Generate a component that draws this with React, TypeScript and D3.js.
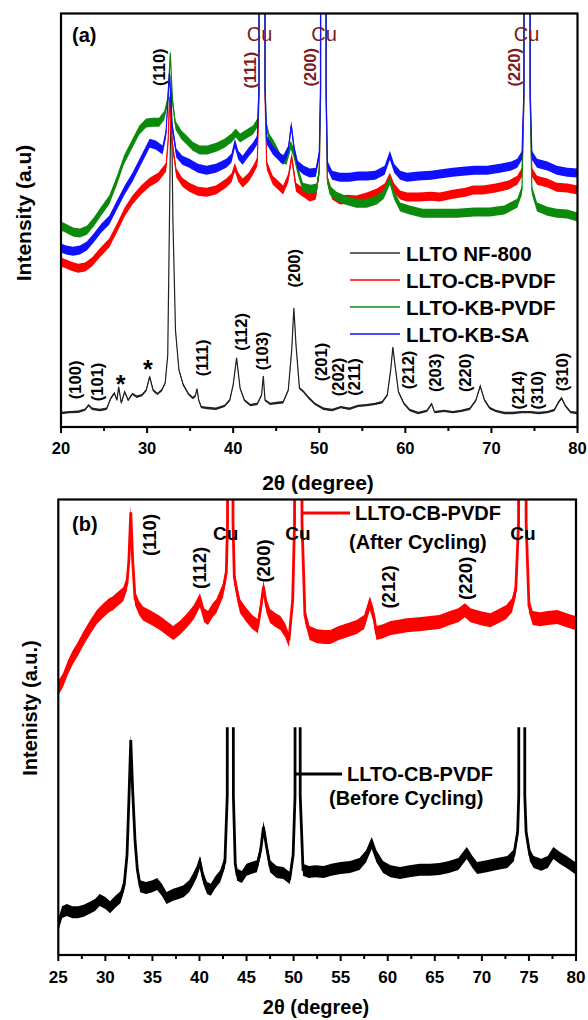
import React from 'react';
import * as d3 from 'd3';

type P = [number, number];

// ---------- ticks ----------
const topTicks = [20, 30, 40, 50, 60, 70, 80];
const topMinor = [25, 35, 45, 55, 65, 75];
const botTicks = [25, 30, 35, 40, 45, 50, 55, 60, 65, 70, 75, 80];
const botMinor = [27.5, 32.5, 37.5, 42.5, 47.5, 52.5, 57.5, 62.5, 67.5, 72.5, 77.5];

// ---------- panel (a) series ----------
const nf800: P[] = [
  [20, 3.4], [21, 3.6], [22, 3.7], [22.8, 4.2], [23.2, 5.3], [23.6, 4.4], [24.5, 4.1], [25.3, 4.4], [25.8, 7.0],
  [26.2, 8.2], [26.5, 6.5], [26.7, 9.7], [27.0, 5.8], [27.4, 8.5], [27.8, 6.5], [28.3, 8.0], [28.8, 7.3],
  [29.4, 7.7], [29.9, 8.9], [30.3, 12.2], [30.7, 8.9], [31.2, 8.0], [31.7, 8.9], [32.1, 10.6], [32.4, 17.4],
  [32.6, 50], [32.8, 85], [33.0, 50], [33.3, 23.4], [33.7, 13.8], [34.2, 10.2], [34.8, 8.0], [35.3, 7.0],
  [35.6, 7.5], [35.8, 9.2], [36.0, 6.5], [36.3, 4.8], [37, 4.6], [38, 4.4], [39, 5.1], [39.6, 6.5], [40.0, 10.2],
  [40.4, 16.7], [40.8, 9.4], [41.3, 6.5], [42, 5.3], [42.8, 5.6], [43.3, 7.7], [43.5, 12.3], [43.7, 6.5],
  [44.3, 5.6], [45, 5.8], [45.8, 6.0], [46.4, 8.9], [46.8, 18.6], [47.05, 28.8], [47.3, 19.8], [47.7, 9.4],
  [48.2, 8.5], [48.8, 7.0], [49.5, 5.6], [50.5, 4.4], [51.5, 4.1], [52.5, 4.8], [53.5, 4.4], [54.5, 5.1],
  [55.5, 5.3], [56.5, 5.6], [57.3, 6.0], [57.9, 7.7], [58.3, 13.8], [58.55, 19.3], [58.8, 15.0], [59.2, 8.5],
  [59.8, 5.8], [60.5, 4.1], [61.5, 3.4], [62.5, 3.9], [63.05, 5.6], [63.4, 3.6], [64.5, 3.9], [65.5, 3.6],
  [66.5, 3.9], [67.5, 4.4], [68.2, 6.5], [68.7, 9.9], [69.2, 6.5], [69.8, 4.6], [70.5, 3.9], [71.5, 3.4],
  [72.5, 3.4], [73.5, 3.6], [74.5, 3.6], [75.5, 3.4], [76.5, 3.6], [77.3, 4.1], [77.8, 6.0], [78.15, 7.0],
  [78.6, 5.1], [79.2, 3.6], [80, 3.4],
];

const cbPvdf: P[] = [
  [20, 39.9], [20.6, 39.4], [21.2, 38.9], [22.0, 38.4], [22.8, 38.7], [23.6, 39.9], [24.6, 42.3], [25.6, 44.5],
  [26.5, 48.1], [27.4, 52], [28.3, 54.9], [29.3, 57.3], [30.3, 59.2], [31.3, 60.4], [32.2, 62.8], [32.45, 69.4],
  [32.6, 79.8], [32.8, 70.6], [33.4, 61.4], [34.1, 59.2], [34.9, 58], [35.9, 57], [36.9, 56.8], [38.0, 57.3],
  [39.2, 59], [39.8, 60.2], [40.2, 62.8], [40.6, 60.4], [41.1, 59], [41.8, 60.4], [42.3, 62.1], [42.8, 64.1],
  [43.0, 80], [43.06, 400], [43.62, 400], [43.7, 80], [43.9, 63.3], [44.6, 59.7], [45.2, 58.5], [45.8, 57.3], [46.4, 60.2],
  [46.8, 65.3], [47.3, 58], [48.1, 56.8], [48.9, 55.6], [49.6, 56.1], [50.0, 62], [50.15, 80], [50.2, 400],
  [50.73, 400], [50.8, 80], [50.95, 59.7], [51.5, 56.1], [52.4, 54.9], [53.3, 55.1], [54.3, 54.9], [55.5, 55.6], [56.7, 56.6],
  [57.6, 57.8], [58.2, 60.4], [58.7, 57.8], [59.4, 56.1], [60.2, 55.6], [61.5, 55.6], [63, 55.8], [64, 55.6],
  [65.5, 56.3], [67, 56.8], [67.9, 57.3], [69, 57.3], [70.5, 57.8], [72, 58.5], [73, 59.7], [73.55, 61.6],
  [73.78, 80], [73.84, 400], [74.42, 400], [74.5, 80], [74.7, 61.6], [75.3, 59.7], [76.5, 59], [77.6, 58], [78.8, 57.8], [80, 57.3],
];

const kbPvdf: P[] = [
  [20, 48.6], [20.5, 48.1], [21, 47.6], [21.5, 47.1], [22.2, 46.9], [23, 47.6], [23.8, 49.6], [24.6, 52.0],
  [25.6, 54.9], [26.5, 59.7], [27.3, 64.5], [28.3, 68.6], [29.1, 71.8], [29.9, 73.5], [30.6, 73.7], [31.4, 73.7],
  [32.0, 75.4], [32.4, 79], [32.7, 90.4], [32.95, 79], [33.3, 73], [34.0, 70.6], [34.6, 69.4], [35.3, 67.9],
  [36.1, 67], [37.0, 67], [38.1, 67.7], [39.0, 68.6], [39.8, 69.9], [40.3, 71.1], [40.8, 69.9], [41.5, 70.8],
  [42.3, 71.8], [42.85, 73.7], [43.0, 82], [43.06, 400], [43.62, 400], [43.7, 82], [43.85, 73], [44.2, 69.9], [44.8, 67.9],
  [45.5, 65], [46.2, 64.5], [46.7, 68.2], [47.0, 66.5], [47.5, 62.1], [48.1, 58], [49.0, 57.5], [49.7, 57.8],
  [50.0, 62], [50.15, 80], [50.2, 400], [50.73, 400], [50.8, 80], [50.95, 60], [51.2, 57.3], [52.0, 55.8], [53.0, 54.9],
  [54.3, 54.1], [55.5, 54.1], [56.7, 54.9], [57.5, 56.3], [58.2, 59.7], [58.7, 56.1], [59.4, 53.2], [60.5, 52.5],
  [62, 51.7], [64, 51.7], [66, 51.7], [68, 52.0], [69.8, 52.0], [71.5, 52.5], [73, 54.1], [73.55, 57.3],
  [73.78, 80], [73.84, 400], [74.42, 400], [74.5, 80], [74.7, 57.3], [75.3, 53.2], [76.5, 52.2], [77.6, 51.7], [78.8, 51.5], [80, 50.8],
];

const kbSa: P[] = [
  [20, 43.3], [20.6, 42.8], [21.4, 42.5], [22.2, 42.8], [23.0, 43.8], [23.8, 45.7], [24.7, 48.1], [25.6, 50],
  [26.5, 53.7], [27.4, 57.3], [28.3, 60.4], [29.3, 64.5], [30.3, 68.6], [31.0, 68.2], [31.8, 67], [32.2, 71.1],
  [32.6, 85.6], [32.9, 73], [33.4, 66.2], [34.1, 64.5], [34.9, 63.8], [35.9, 62.6], [36.9, 62.1], [38.0, 62.6],
  [39.2, 63.8], [39.8, 65], [40.2, 68.6], [40.6, 65.7], [41.1, 64.5], [41.8, 66.5], [42.3, 67.7], [42.8, 69.4],
  [43.0, 82], [43.06, 400], [43.62, 400], [43.7, 82], [43.9, 69.4], [44.6, 67], [45.2, 65.7], [45.8, 64.5], [46.4, 67],
  [46.75, 73], [47.1, 67], [47.5, 63.3], [48.2, 62.1], [48.9, 61.4], [49.6, 61.6], [50.0, 66], [50.15, 82],
  [50.2, 400], [50.73, 400], [50.8, 82], [50.95, 63.3], [51.5, 60.9], [52.4, 60.4], [53.5, 60.4], [54.5, 60.7], [55.5, 60.7],
  [56.5, 60.9], [57.6, 62.1], [58.2, 65.7], [58.7, 62.6], [59.4, 60.9], [60.2, 60.4], [61.5, 60.7], [63, 60.9],
  [64, 61.2], [65.5, 61.6], [67, 61.9], [68, 62.1], [69.5, 62.1], [71, 62.6], [72.3, 63.1], [73.0, 63.8],
  [73.55, 65.7], [73.78, 82], [73.84, 400], [74.42, 400], [74.5, 82], [74.7, 65.7], [75.3, 63.8], [76.5, 63.1], [77.6, 62.1],
  [78.8, 61.6], [80, 61.4],
];

// ---------- panel (b) series ----------
const afterCycling: P[] = [
  [25.0, 58.6], [25.5, 60.3], [26.0, 63], [26.5, 65.2], [27.0, 66.9], [27.7, 69.6], [28.4, 72], [29.1, 74.2],
  [29.8, 75.7], [30.4, 76.8], [30.8, 77.2], [31.4, 78.3], [31.9, 79.2], [32.3, 81.6], [32.5, 86.7], [32.7, 97.2],
  [32.9, 86.7], [33.15, 78.3], [33.6, 76.1], [34.0, 75], [34.9, 74], [35.8, 72.9], [36.5, 71.8], [37.2, 70.7],
  [37.9, 71.8], [38.7, 73.5], [39.4, 75.3], [40.05, 77.9], [40.5, 74.6], [40.9, 74], [41.4, 75.7], [41.8, 76.6],
  [42.5, 80.1], [42.85, 84], [42.98, 95], [43.02, 400], [43.52, 400], [43.56, 95], [43.7, 83], [43.95, 80.1], [44.3, 76.6],
  [45.0, 74.6], [45.6, 73.1], [46.2, 72.2], [46.55, 76.8], [46.8, 80.8], [47.1, 76.8], [47.5, 74.4], [48.1, 73.5],
  [48.6, 72.9], [49.1, 71.3], [49.5, 69.1], [49.9, 77.9], [50.1, 95], [50.15, 400], [50.84, 400], [50.89, 95], [51.2, 74.6],
  [51.7, 70.7], [52.5, 70], [53.3, 69.8], [53.9, 69.8], [54.8, 70.7], [55.7, 71.3], [56.7, 72], [57.5, 73.1],
  [58.1, 77.2], [58.5, 74.6], [58.8, 70.7], [59.5, 71.1], [60.3, 71.8], [61.0, 72], [62, 72.4], [63.3, 72.6],
  [64.5, 72.9], [65.5, 73.1], [66.6, 74], [67.5, 74.6], [68.2, 75.7], [68.8, 74.6], [69.8, 74], [70.9, 73.5],
  [71.8, 74.4], [72.6, 75.3], [73.2, 76.8], [73.6, 80.1], [73.9, 95], [73.94, 400], [74.65, 400], [74.7, 95], [75.0, 76.8],
  [75.4, 74], [76.2, 73.7], [77.0, 74], [78.0, 74.2], [79.0, 73.5], [79.9, 72.9], [80, 72.9],
];

const beforeCycling: P[] = [
  [25.0, 6.6], [25.4, 9.4], [25.9, 9.9], [26.5, 9.4], [27.1, 9.4], [27.7, 9.7], [28.3, 10.3], [28.9, 11],
  [29.4, 12.1], [30.0, 11.4], [30.5, 10.5], [31.0, 11.6], [31.6, 12.7], [32.0, 15.4], [32.3, 21.9], [32.5, 34],
  [32.7, 47.2], [32.9, 36.2], [33.15, 25.2], [33.4, 18.7], [33.7, 15.1], [34.3, 14.7], [35.0, 15.1], [35.5, 15.6],
  [36.0, 14.3], [36.5, 12.5], [37.2, 13.2], [37.8, 13.6], [38.3, 14], [38.9, 15.1], [39.3, 16.5], [39.7, 18.2],
  [40.05, 20.4], [40.4, 16.9], [40.8, 14.7], [41.2, 14.3], [41.7, 16], [42.2, 17.3], [42.7, 20.4], [42.95, 35],
  [43.02, 400], [43.52, 400], [43.6, 35], [43.8, 20], [44.0, 17.6], [44.5, 17.1], [45.0, 18.7], [45.5, 19.1], [46.1, 19.5],
  [46.5, 23], [46.8, 28.1], [47.1, 24.1], [47.5, 19.5], [48.2, 18.2], [48.9, 18], [49.6, 16.9], [49.95, 22],
  [50.15, 35], [50.2, 400], [50.63, 400], [50.7, 35], [51.0, 18.7], [51.6, 18.2], [52.3, 18.4], [53.2, 18.2], [54.0, 18.7],
  [55.0, 19.1], [56.0, 19.3], [57.0, 20], [57.7, 21.7], [58.3, 24.6], [58.8, 21.7], [59.5, 19.3], [60.3, 18.4],
  [61.3, 18], [62.3, 18.4], [63.4, 18.7], [64.5, 18.7], [65.5, 18.9], [66.5, 19.3], [67.5, 20], [68.4, 22.4],
  [69.0, 20.4], [69.5, 19.1], [70.5, 19.5], [71.6, 20], [72.7, 20.4], [73.4, 21.9], [73.8, 27], [73.92, 35],
  [73.96, 400], [74.5, 400], [74.56, 35], [74.7, 27], [75.1, 21.9], [75.5, 20.4], [76.3, 19.8], [77.0, 20.4], [77.6, 22.4],
  [78.3, 21.3], [79.0, 20.4], [79.9, 19.1], [80, 19.1],
];

// ---------- annotations ----------
const topLegendNames = ['LLTO NF-800', 'LLTO-CB-PVDF', 'LLTO-KB-PVDF', 'LLTO-KB-SA'];
const topLegendColors = ['#333333', '#ff0000', '#0b8a0b', '#1010ff'];

const hklBottomLabels: [string, number, number][] = [
  ['(100)', 21.63, 11.4], ['(101)', 24.18, 10.9], ['(111)', 36.35, 16.7], ['(112)', 40.88, 23.0],
  ['(103)', 43.32, 18.4], ['(200)', 47.07, 38.4], ['(201)', 50.17, 15.7], ['(202)', 52.21, 12.1],
  ['(211)', 54.04, 12.1], ['(212)', 60.31, 13.8], ['(203)', 63.45, 13.1], ['(220)', 66.93, 13.1],
  ['(214)', 73.09, 8.9], ['(310)', 75.3, 8.9], ['(310)', 78.2, 13.3],
];
const hklTopBlack: [string, number, number][] = [['(110)', 31.44, 87.0]];
const hklTopCu: [string, number, number][] = [['(111)', 41.9, 86.3], ['(200)', 48.93, 87.0], ['(220)', 72.68, 87.0]];
const cuTop: [string, number, number][] = [['Cu', 43.06, 95.0], ['Cu', 50.55, 95.0], ['Cu', 74.08, 95.0]];
const stars: [string, number, number][] = [['*', 26.94, 11.4], ['*', 30.1, 15.0]];

const hklPanelB: [string, number, number][] = [
  ['(110)', 34.74, 92.2], ['(112)', 39.98, 85.0], ['(200)', 46.78, 86.5], ['(212)', 60.06, 80.8], ['(220)', 68.21, 82.7],
];
const cuPanelB: [string, number, number][] = [['Cu', 42.79, 92.6], ['Cu', 50.46, 92.6], ['Cu', 74.37, 92.6]];

const FONT = '"Liberation Sans", Arial, Helvetica, sans-serif';
const CU_RED = '#7d1a1a';

export default function App() {
  // panel (a)
  const ax = d3.scaleLinear().domain([20, 80]).range([61, 577.5]);
  const ay = d3.scaleLinear().domain([0, 100]).range([427, 13.5]);
  // panel (b)
  const bx = d3.scaleLinear().domain([25, 80]).range([58.3, 576]);
  const by = d3.scaleLinear().domain([0, 100]).range([955, 499.5]);

  const lineA = d3.line<P>().x(d => ax(d[0])).y(d => ay(d[1]));
  const bandA = (h: number) => d3.area<P>().x(d => ax(d[0])).y0(d => ay(d[1]) + h).y1(d => ay(d[1]) - h);
  const lineB = d3.line<P>().x(d => bx(d[0])).y(d => by(d[1]));
  const bandB = (h: number) => d3.area<P>().x(d => bx(d[0])).y0(d => by(d[1]) + h).y1(d => by(d[1]) - h);

  const topColored: [P[], string][] = [[cbPvdf, topLegendColors[1]], [kbPvdf, topLegendColors[2]], [kbSa, topLegendColors[3]]];

  const rotLabel = (t: [string, number, number], i: number, sx: any, sy: any, size: number, color: string) => (
    <text key={i} transform={`translate(${sx(t[1])},${sy(t[2])}) rotate(-90)`} textAnchor="middle"
      dominantBaseline="central" fontSize={size} fontWeight="bold" fill={color} fontFamily={FONT}>{t[0]}</text>
  );

  return (
    <svg width={588} height={1020} style={{ position: 'absolute', left: 0, top: 0, background: '#fff' }}>
      <defs>
        <clipPath id="clipA"><rect x={ax(20)} y={ay(100)} width={ax(80) - ax(20)} height={ay(0) - ay(100)} /></clipPath>
        <clipPath id="clipB"><rect x={bx(25)} y={by(100)} width={bx(80) - bx(25)} height={by(0) - by(100)} /></clipPath>
        <clipPath id="clipBlack"><rect x={bx(25)} y={by(50)} width={bx(80) - bx(25)} height={by(0) - by(50)} /></clipPath>
      </defs>

      {/* ================= panel (a) ================= */}
      <g clipPath="url(#clipA)">
        <path d={bandA(1.2)(nf800) || ''} fill="#222" />
        <path d={lineA(nf800) || ''} fill="none" stroke="#222" strokeWidth={1.2} />
        {topColored.map(([s, c], i) => (
          <g key={i}>
            <path d={bandA(4.5)(s) || ''} fill={c} />
            <path d={lineA(s) || ''} fill="none" stroke={c} strokeWidth={1.2} />
          </g>
        ))}
      </g>
      <rect x={ax(20)} y={ay(100)} width={ax(80) - ax(20)} height={ay(0) - ay(100)} fill="none" stroke="#000" strokeWidth={2.2} />
      {topTicks.map(t => (
        <g key={'ta' + t}>
          <line x1={ax(t)} x2={ax(t)} y1={ay(0)} y2={ay(0) + 6} stroke="#000" strokeWidth={2} />
          <text x={ax(t)} y={ay(0) + 27} textAnchor="middle" fontSize={16.5} fontWeight="bold" fontFamily={FONT}>{t}</text>
        </g>
      ))}
      {topMinor.map(t => (
        <line key={'tm' + t} x1={ax(t)} x2={ax(t)} y1={ay(0)} y2={ay(0) + 4} stroke="#000" strokeWidth={2} />
      ))}
      <text x={318} y={490} textAnchor="middle" fontSize={21} fontWeight="bold" fontFamily={FONT}>2θ (degree)</text>
      <text transform="translate(31,213) rotate(-90)" textAnchor="middle" fontSize={21} fontWeight="bold" fontFamily={FONT}>Intensity (a.u)</text>
      <text x={72} y={42} fontSize={20} fontWeight="bold" fontFamily={FONT}>(a)</text>

      {hklBottomLabels.map((t, i) => rotLabel(t, i, ax, ay, 16.5, '#000'))}
      {hklTopBlack.map((t, i) => rotLabel(t, i, ax, ay, 16.5, '#000'))}
      {hklTopCu.map((t, i) => rotLabel(t, i, ax, ay, 16.5, CU_RED))}
      {cuTop.map((t, i) => (
        <text key={'cu' + i} x={ax(t[1])} y={ay(t[2])} textAnchor="middle" dominantBaseline="central"
          fontSize={20} fill={CU_RED} fontFamily={FONT}>{t[0]}</text>
      ))}
      {stars.map((t, i) => (
        <text key={'st' + i} x={ax(t[1])} y={ay(t[2]) + 13} textAnchor="middle" fontSize={25} fontWeight="bold" fontFamily={FONT}>{t[0]}</text>
      ))}

      {topLegendNames.map((n, i) => (
        <g key={'lg' + i}>
          <line x1={350} x2={400} y1={253 + i * 27} y2={253 + i * 27} stroke={topLegendColors[i]} strokeWidth={1.6} />
          <text x={406} y={253 + i * 27} dominantBaseline="central" fontSize={20.5} fontWeight="bold" fontFamily={FONT}>{n}</text>
        </g>
      ))}

      {/* ================= panel (b) ================= */}
      <g clipPath="url(#clipB)">
        <g clipPath="url(#clipBlack)">
          <path d={bandB(6)(beforeCycling) || ''} fill="#000" />
          <path d={lineB(beforeCycling) || ''} fill="none" stroke="#000" strokeWidth={2.8} />
        </g>
        <path d={bandB(7)(afterCycling) || ''} fill="#ff0000" />
        <path d={lineB(afterCycling) || ''} fill="none" stroke="#ff0000" strokeWidth={2.8} />
      </g>
      <rect x={bx(25)} y={by(100)} width={bx(80) - bx(25)} height={by(0) - by(100)} fill="none" stroke="#000" strokeWidth={2.2} />
      {botTicks.map(t => (
        <g key={'tb' + t}>
          <line x1={bx(t)} x2={bx(t)} y1={by(0)} y2={by(0) + 6} stroke="#000" strokeWidth={2} />
          <text x={bx(t)} y={by(0) + 28} textAnchor="middle" fontSize={17} fontWeight="bold" fontFamily={FONT}>{t}</text>
        </g>
      ))}
      {botMinor.map(t => (
        <line key={'bm' + t} x1={bx(t)} x2={bx(t)} y1={by(0)} y2={by(0) + 4} stroke="#000" strokeWidth={2} />
      ))}
      <text x={316} y={1014} textAnchor="middle" fontSize={20} fontWeight="bold" fontFamily={FONT}>2θ (degree)</text>
      <text transform="translate(37,708) rotate(-90)" textAnchor="middle" fontSize={20} fontWeight="bold" fontFamily={FONT}>Intenisty (a.u.)</text>
      <text x={72} y={531} fontSize={20} fontWeight="bold" fontFamily={FONT}>(b)</text>

      {hklPanelB.map((t, i) => rotLabel(t, i, bx, by, 18.5, '#000'))}
      {cuPanelB.map((t, i) => (
        <text key={'cb' + i} x={bx(t[1])} y={by(t[2])} textAnchor="middle" dominantBaseline="central"
          fontSize={19} fontWeight="bold" fontFamily={FONT}>{t[0]}</text>
      ))}

      <line x1={303} x2={350} y1={513} y2={513} stroke="#ff0000" strokeWidth={3} />
      <text x={355} y={513} dominantBaseline="central" fontSize={20} fontWeight="bold" fontFamily={FONT}>LLTO-CB-PVDF</text>
      <text x={349} y={542} dominantBaseline="central" fontSize={20} fontWeight="bold" fontFamily={FONT}>(After Cycling)</text>

      <line x1={295} x2={342} y1={774} y2={774} stroke="#000" strokeWidth={3} />
      <text x={347} y={774} dominantBaseline="central" fontSize={20} fontWeight="bold" fontFamily={FONT}>LLTO-CB-PVDF</text>
      <text x={329} y={798} dominantBaseline="central" fontSize={20} fontWeight="bold" fontFamily={FONT}>(Before Cycling)</text>
    </svg>
  );
}
